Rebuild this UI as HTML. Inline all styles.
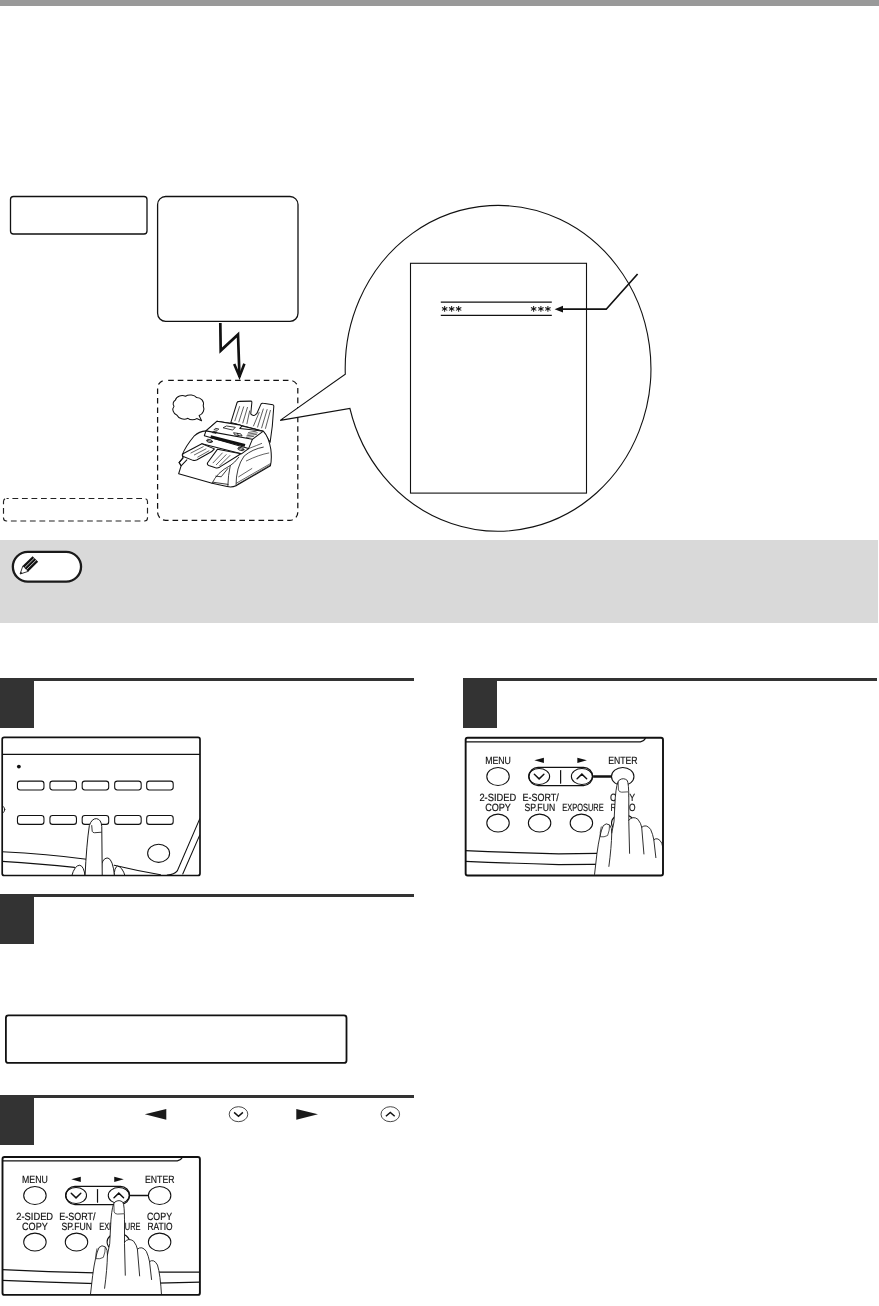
<!DOCTYPE html>
<html lang="en"><head><meta charset="utf-8"><title>Fax manual page</title>
<style>
*{margin:0;padding:0;box-sizing:border-box}
html,body{width:879px;height:1306px;background:#fff;overflow:hidden}
body{position:relative;font-family:"Liberation Sans",sans-serif;color:#111}
.abs{position:absolute}
.topbar{left:0;top:0;width:879px;height:6px;background:#999}
.note{left:0;top:540px;width:878px;height:83px;background:#d9d9d9}
.step{height:50px}
.step .num{position:absolute;left:0;top:0;width:34px;height:50px;background:#333}
.step .rule{position:absolute;left:0;top:0;right:0;height:3px;background:#333}
svg{position:absolute;left:0;top:0;overflow:visible;will-change:transform}
svg text{font-family:"Liberation Sans",sans-serif;fill:#111;text-rendering:geometricPrecision}
</style></head>
<body>
<div class="abs topbar"></div>
<div class="abs note"></div>
<div class="abs step" style="left:0px;top:678px;width:414px"><div class="rule"></div><div class="num"></div></div>
<div class="abs step" style="left:0px;top:894px;width:414px"><div class="rule"></div><div class="num"></div></div>
<div class="abs step" style="left:0px;top:1095px;width:414px"><div class="rule"></div><div class="num"></div></div>
<div class="abs step" style="left:463px;top:678px;width:414px"><div class="rule"></div><div class="num"></div></div>
<svg width="879" height="1306" viewBox="0 0 879 1306">
<rect x="10.5" y="196.5" width="136.5" height="37.5" rx="3" ry="3" fill="#fff" stroke="#111" stroke-width="1.3"/>
<rect x="157.6" y="196.5" width="140.4" height="124.8" rx="8" ry="8" fill="#fff" stroke="#111" stroke-width="1.3"/>
<path d="M220.3,323 L220.7,350.6 L238,334.4 L239.5,377" fill="none" stroke="#111" stroke-width="2.7" stroke-linejoin="miter" stroke-miterlimit="10"/>
<path d="M234.2,364 L239.5,376.6 L244.4,363.8" fill="none" stroke="#111" stroke-width="2.6" stroke-linejoin="miter" stroke-miterlimit="10"/>
<rect x="157.6" y="380.3" width="140.2" height="140" rx="8" ry="8" fill="none" stroke="#111" stroke-width="1.25" stroke-dasharray="5.6 3.956" stroke-dashoffset="-2.6"/>
<rect x="3.5" y="498.5" width="144" height="22.5" rx="3" ry="3" fill="none" stroke="#222" stroke-width="1.15" stroke-dasharray="5.8 3.72" stroke-dashoffset="3.6"/>
<g transform="translate(165,385) scale(0.13652)" fill="#fff" stroke="#111" stroke-width="7.6" stroke-linejoin="round" stroke-linecap="round">
<path d="M75,112 C85,78 125,70 150,82 C175,66 215,72 232,92 C262,92 290,118 280,152 C292,180 280,212 250,224 L268,262 L232,246 C215,258 185,258 168,244 C140,258 100,248 88,222 C58,210 50,176 66,156 C54,140 60,120 75,112 Z"/>
<path d="M482,275 L528,128 Q532,120 545,120 L630,118 Q638,120 636,130 L628,212 Q648,236 672,210 L703,140 Q708,132 720,134 L790,144 Q798,146 797,156 L786,300 L770,420 L720,340 L560,296 Z"/>
<path d="M512,262 L546,158 M541,270 L576,160 M570,278 L604,164 M600,284 L620,190 M648,300 L690,200 M678,308 L720,176 M708,314 L748,180 M736,318 L772,186" fill="none" stroke-width="5"/>
<path d="M380,266 L545,292 L565,300 L720,338 Q760,380 775,470 Q784,540 772,592 L520,738 Q490,752 455,744 L345,720 L100,650 L118,592 L103,568 L132,534 L126,512 Q150,450 215,372 Q250,340 300,336 Z"/>
<path d="M300,336 L380,266 L545,292 L565,300 L548,318 L720,338 L640,398 L300,336 Z"/>
<path d="M428,312 L450,300 L515,310 L498,328 Z M372,318 l22,4 -10,10 -22,-4 Z M356,340 l26,5 -8,9 -26,-5 Z M505,350 l50,8 l10,16 l-50,-8 Z M530,354 l8,18" fill="none" stroke-width="6"/>
<path d="M612,348 L668,338 M606,360 L676,350 M600,372 L670,362 M596,384 L650,376" fill="none" stroke-width="4.8"/>
<path d="M300,336 L288,372 L612,466 L640,398" fill="none"/>
<path d="M334,379 L586,442" fill="none" stroke-width="21" stroke-linecap="butt"/>
<ellipse cx="326" cy="410" rx="22" ry="11" transform="rotate(15 326 410)" fill="#fff" stroke-width="6"/>
<ellipse cx="556" cy="469" rx="23" ry="11" transform="rotate(15 556 469)" fill="#fff" stroke-width="6"/>
<path d="M310,406 l32,8 M540,465 l32,8" fill="none" stroke-width="6"/>
<path d="M270,430 L560,504 L612,466" fill="none"/>
<path d="M270,430 L135,502 Q122,512 134,524 L205,552 Q220,556 235,548 L320,500 Q345,490 362,468 Z"/>
<path d="M385,470 L312,570 Q306,584 320,590 L370,606 Q386,610 400,602 L530,520 L555,504 Z"/>
<path d="M190,498 L280,452 M215,512 L300,468 M240,528 L322,482 M352,570 L420,498 M376,584 L448,510 M400,592 L476,516" fill="none" stroke-width="4.8"/>
<path d="M132,534 L103,568 L118,592 L160,548" fill="none"/>
<path d="M478,590 Q462,660 460,744 M520,738 Q520,600 580,520 Q640,470 720,455 M345,720 Q380,640 478,590 Q510,570 540,530 M372,668 L412,672 L460,612 M350,712 L462,728" fill="none" stroke-width="6"/>
<path d="M596,556 Q690,510 760,498 M540,672 L636,612 M525,718 L772,576 M530,728 L774,584 M612,466 Q680,440 708,428" fill="none" stroke-width="4.8"/>
</g>
<path d="M345.30,374.1 A152.85,162.9 0 1 1 349.93,408.5 L280.2,420.4 Z" fill="#fff" stroke="#111" stroke-width="1.1" stroke-linejoin="miter"/>
<rect x="410.5" y="263.3" width="176" height="229.8" fill="#fff" stroke="#111" stroke-width="1.1"/>
<path d="M440.8,302.2 H551.8 M440.8,315.3 H551.8" fill="none" stroke="#111" stroke-width="1.2"/>
<text x="441.5" y="315.4" font-size="12" font-weight="bold" letter-spacing="0.78" style="font-family:'DejaVu Sans','Liberation Sans',sans-serif">***</text>
<text x="530.6" y="315.4" font-size="12" font-weight="bold" letter-spacing="0.78" style="font-family:'DejaVu Sans','Liberation Sans',sans-serif">***</text>
<path d="M560,309.2 H606.2 L637.6,274" fill="none" stroke="#111" stroke-width="1.7"/>
<path d="M554.6,309.2 L563,305.8 L563,312.6 Z" fill="#111"/>
<rect x="12.85" y="551.85" width="68.2" height="29.8" rx="14.9" ry="14.9" fill="#fff" stroke="#1a1a1a" stroke-width="2.3"/>
<g transform="translate(20.1,574) rotate(-44.5)"><path d="M0,0 L7.6,-3.8 L7.6,3.8 Z" fill="#fff" stroke="#111" stroke-width="0.8" stroke-linejoin="round"/><path d="M0,0 L2.2,-1.1 L2.2,1.1 Z" fill="#111"/><rect x="7.6" y="-4" width="13.8" height="8" fill="#111"/><path d="M7.6,-1.35 H21.4 M7.6,1.35 H21.4" stroke="#fff" stroke-width="0.7" fill="none"/></g>
<rect x="5.9" y="1015.4" width="340.6" height="47.5" rx="2.5" ry="2.5" fill="#fff" stroke="#111" stroke-width="1.8"/>
<path d="M144.8,1114.3 L166.3,1108.9 V1119.7 Z M318,1114.3 L296.3,1108.9 V1119.7 Z" fill="#1a1a1a"/>
<ellipse cx="238.5" cy="1114.2" rx="9.3" ry="7.5" fill="#fff" stroke="#2a2a2a" stroke-width="0.85"/>
<path d="M234.1,1112.4 L238.5,1116.2 L242.9,1112.4" fill="none" stroke="#111" stroke-width="1.5"/>
<ellipse cx="390.3" cy="1114.2" rx="9.3" ry="7.5" fill="#fff" stroke="#2a2a2a" stroke-width="0.85"/>
<path d="M385.90000000000003,1116.2 L390.3,1112.4 L394.7,1116.2" fill="none" stroke="#111" stroke-width="1.5"/>
<clipPath id="clipA"><rect x="2.2" y="737.4" width="197.8" height="138.1" rx="2"/></clipPath>
<rect x="2.2" y="737.4" width="197.8" height="138.1" rx="2" fill="#fff" stroke="none"/>
<g clip-path="url(#clipA)">
<g transform="translate(0.00,730.00) scale(0.23889)" fill="none" stroke="#111" stroke-width="5" stroke-linecap="round" stroke-linejoin="round">
<path d="M9,102 H837" stroke-width="5"/>
<circle cx="79" cy="153" r="8" fill="#111" stroke="none"/>
<rect x="73" y="214" width="111" height="37" rx="11" ry="11" stroke-width="4.5" fill="#fff"/>
<rect x="209" y="214" width="111" height="37" rx="11" ry="11" stroke-width="4.5" fill="#fff"/>
<rect x="344" y="214" width="111" height="37" rx="11" ry="11" stroke-width="4.5" fill="#fff"/>
<rect x="480" y="214" width="111" height="37" rx="11" ry="11" stroke-width="4.5" fill="#fff"/>
<rect x="614" y="214" width="111" height="37" rx="11" ry="11" stroke-width="4.5" fill="#fff"/>
<rect x="73" y="358" width="111" height="37" rx="11" ry="11" stroke-width="4.5" fill="#fff"/>
<rect x="209" y="358" width="111" height="37" rx="11" ry="11" stroke-width="4.5" fill="#fff"/>
<rect x="344" y="358" width="111" height="37" rx="11" ry="11" stroke-width="4.5" fill="#fff"/>
<rect x="480" y="358" width="111" height="37" rx="11" ry="11" stroke-width="4.5" fill="#fff"/>
<rect x="614" y="358" width="111" height="37" rx="11" ry="11" stroke-width="4.5" fill="#fff"/>
<ellipse cx="664" cy="516" rx="46" ry="38" stroke-width="4.5"/>
<ellipse cx="-4" cy="333" rx="24" ry="20" stroke-width="3.5"/>
<path d="M836,372 L742,590 Q730,606 700,607 M836,440 L765,603" stroke-width="4.5"/>
<path d="M9,510 Q200,520 362,541 M478,566 Q570,588 672,606 M9,550 Q170,560 312,575" stroke-width="4.5"/>
<path d="M300,612 Q312,566 334,566 Q352,570 356,612 Z" fill="#fff" stroke-width="4"/>
<path d="M424,612 L426,560 Q434,534 452,536 Q472,540 480,612 Z" fill="#fff" stroke-width="4"/>
<path d="M478,612 Q478,574 492,570 Q512,572 524,612 Z" fill="#fff" stroke-width="4"/>
<path d="M356,612 Q362,480 374,400 Q384,370 404,371 Q424,374 426,404 L428,612 Z" fill="#fff" stroke-width="4"/>
<path d="M384,400 L386,424 Q388,430 396,430 L424,428" stroke-width="3.5"/>
</g></g>
<rect x="2.2" y="737.4" width="197.8" height="138.1" rx="2" fill="none" stroke="#111" stroke-width="1.7"/>
<clipPath id="clipB"><rect x="2.5" y="1156.95" width="197.4" height="137.95" rx="2"/></clipPath>
<rect x="2.5" y="1156.95" width="197.4" height="137.95" rx="2" fill="#fff"/>
<g clip-path="url(#clipB)">
<g transform="translate(0.05,1150.11) scale(0.23889)" fill="none" stroke="#111" stroke-width="4.5" stroke-linecap="round">
<path d="M9,45 L742,45 Q758,42 764,28" stroke-width="4.5"/>
<path d="M338,111 V133 L298,122 Z M478,111 V133 L518,122 Z" fill="#111" stroke="none"/>
<rect x="275.5" y="152" width="266.5" height="76" rx="38" ry="38" stroke-width="5.4" fill="#fff"/>
<ellipse cx="318" cy="190" rx="44" ry="33.5" stroke-width="4.5"/>
<ellipse cx="497" cy="190" rx="44" ry="33.5" stroke-width="4.5"/>
<path d="M298,181 L318,200 L338,181 M477,199 L497,180 L517,199" stroke-width="6" stroke-linejoin="miter"/>
<path d="M408,165 V218" stroke-width="5"/>
<path d="M544,190 H622" stroke-width="7" stroke-linecap="butt"/>
<ellipse cx="146" cy="190" rx="47" ry="37.5" stroke-width="4.5" fill="#fff"/>
<ellipse cx="668" cy="190" rx="47" ry="37.5" stroke-width="4.5" fill="#fff"/>
<ellipse cx="146" cy="385" rx="47" ry="37.5" stroke-width="4.5" fill="#fff"/>
<ellipse cx="320" cy="385" rx="47" ry="37.5" stroke-width="4.5" fill="#fff"/>
<ellipse cx="495" cy="385" rx="47" ry="37.5" stroke-width="4.5" fill="#fff"/>
<ellipse cx="668" cy="385" rx="47" ry="37.5" stroke-width="4.5" fill="#fff"/>
<path d="M9,500 Q200,509 400,513.5 L640,511 L840,511 M9,545 Q200,553 400,558.5 L660,557 L840,552.5" stroke-width="5"/>
<text x="92" y="138" font-size="44" textLength="108" lengthAdjust="spacingAndGlyphs" stroke="#111" stroke-width="0.8">MENU</text>
<text x="607" y="138" font-size="44" textLength="123" lengthAdjust="spacingAndGlyphs" stroke="#111" stroke-width="0.8">ENTER</text>
<text x="68" y="293.5" font-size="44" textLength="154" lengthAdjust="spacingAndGlyphs" stroke="#111" stroke-width="0.8">2-SIDED</text>
<text x="92" y="334" font-size="44" textLength="108" lengthAdjust="spacingAndGlyphs" stroke="#111" stroke-width="0.8">COPY</text>
<text x="248" y="293.5" font-size="44" textLength="152" lengthAdjust="spacingAndGlyphs" stroke="#111" stroke-width="0.8">E-SORT/</text>
<text x="257" y="334" font-size="44" textLength="128" lengthAdjust="spacingAndGlyphs" stroke="#111" stroke-width="0.8">SP.FUN</text>
<text x="415" y="334" font-size="44" textLength="173" lengthAdjust="spacingAndGlyphs" stroke="#111" stroke-width="0.8">EXPOSURE</text>
<text x="615" y="293.5" font-size="44" textLength="105" lengthAdjust="spacingAndGlyphs" stroke="#111" stroke-width="0.8">COPY</text>
<text x="617" y="334" font-size="44" textLength="105" lengthAdjust="spacingAndGlyphs" stroke="#111" stroke-width="0.8">RATIO</text>
</g>
<g transform="translate(60.00,1180.00) scale(0.15926)" >
<g fill="#fff" stroke="#111" stroke-width="5.5" stroke-linecap="round" stroke-linejoin="round">
<path d="M190,730 L205,600 Q222,470 245,424 Q262,404 285,420 Q300,440 298,470 L312,400 L320,250 Q328,150 345,138 Q372,120 395,140 Q405,160 405,250 L405,390 Q430,360 462,384 Q482,410 486,434 Q515,410 542,448 Q556,478 562,512 Q590,492 612,534 Q630,590 638,730 Z" stroke="none"/>
<path d="M190,730 L205,600 Q222,470 245,424 Q262,404 285,420 Q300,440 298,470 Q296,560 280,680" fill="none"/>
<path d="M232,432 Q222,470 226,494 Q250,498 272,486 Q286,450 284,424" fill="none" stroke-width="4.5"/>
<path d="M298,470 L312,400 L320,250 Q328,150 345,138 Q372,120 395,140 Q405,160 405,250 L405,400 L410,598" fill="none"/>
<path d="M338,150 L340,200 Q344,214 360,214 L400,212" fill="none" stroke-width="4.5"/>
<path d="M405,390 Q430,360 462,384 Q482,410 486,434 L500,602" fill="none"/>
<path d="M486,434 Q515,410 542,448 Q556,478 562,512 L575,625" fill="none"/>
<path d="M562,512 Q590,492 612,534 Q630,590 638,730" fill="none"/>
</g>
</g>
</g>
<rect x="2.5" y="1156.95" width="197.4" height="137.95" rx="2" fill="none" stroke="#111" stroke-width="1.9"/>
<clipPath id="clipC"><rect x="465.65" y="737.8" width="197.35" height="137.7" rx="2"/></clipPath>
<rect x="465.65" y="737.8" width="197.35" height="137.7" rx="2" fill="#fff"/>
<g clip-path="url(#clipC)">
<g transform="translate(463.15,731.11) scale(0.23889)" fill="none" stroke="#111" stroke-width="4.5" stroke-linecap="round">
<path d="M9,45 L742,45 Q758,42 764,28" stroke-width="4.5"/>
<path d="M338,111 V133 L298,122 Z M478,111 V133 L518,122 Z" fill="#111" stroke="none"/>
<rect x="275.5" y="152" width="266.5" height="76" rx="38" ry="38" stroke-width="5.4" fill="#fff"/>
<ellipse cx="318" cy="190" rx="44" ry="33.5" stroke-width="4.5"/>
<ellipse cx="497" cy="190" rx="44" ry="33.5" stroke-width="4.5"/>
<path d="M298,181 L318,200 L338,181 M477,199 L497,180 L517,199" stroke-width="6" stroke-linejoin="miter"/>
<path d="M408,165 V218" stroke-width="5"/>
<path d="M544,190 H622" stroke-width="9.5" stroke-linecap="butt"/>
<ellipse cx="146" cy="190" rx="47" ry="37.5" stroke-width="4.5" fill="#fff"/>
<ellipse cx="668" cy="190" rx="47" ry="37.5" stroke-width="4.5" fill="#fff"/>
<ellipse cx="146" cy="385" rx="47" ry="37.5" stroke-width="4.5" fill="#fff"/>
<ellipse cx="320" cy="385" rx="47" ry="37.5" stroke-width="4.5" fill="#fff"/>
<ellipse cx="495" cy="385" rx="47" ry="37.5" stroke-width="4.5" fill="#fff"/>
<ellipse cx="668" cy="385" rx="47" ry="37.5" stroke-width="4.5" fill="#fff"/>
<path d="M9,500 Q200,509 400,513.5 L640,511 L840,511 M9,545 Q200,553 400,558.5 L660,557 L840,552.5" stroke-width="5"/>
<text x="92" y="138" font-size="44" textLength="108" lengthAdjust="spacingAndGlyphs" stroke="#111" stroke-width="0.8">MENU</text>
<text x="607" y="138" font-size="44" textLength="123" lengthAdjust="spacingAndGlyphs" stroke="#111" stroke-width="0.8">ENTER</text>
<text x="68" y="293.5" font-size="44" textLength="154" lengthAdjust="spacingAndGlyphs" stroke="#111" stroke-width="0.8">2-SIDED</text>
<text x="92" y="334" font-size="44" textLength="108" lengthAdjust="spacingAndGlyphs" stroke="#111" stroke-width="0.8">COPY</text>
<text x="248" y="293.5" font-size="44" textLength="152" lengthAdjust="spacingAndGlyphs" stroke="#111" stroke-width="0.8">E-SORT/</text>
<text x="257" y="334" font-size="44" textLength="128" lengthAdjust="spacingAndGlyphs" stroke="#111" stroke-width="0.8">SP.FUN</text>
<text x="415" y="334" font-size="44" textLength="173" lengthAdjust="spacingAndGlyphs" stroke="#111" stroke-width="0.8">EXPOSURE</text>
<text x="615" y="293.5" font-size="44" textLength="105" lengthAdjust="spacingAndGlyphs" stroke="#111" stroke-width="0.8">COPY</text>
<text x="617" y="334" font-size="44" textLength="105" lengthAdjust="spacingAndGlyphs" stroke="#111" stroke-width="0.8">RATIO</text>
</g>
<g transform="translate(564.30,758.10) scale(0.15926)" >
<g fill="#fff" stroke="#111" stroke-width="5.5" stroke-linecap="round" stroke-linejoin="round">
<path d="M190,730 L205,600 Q222,470 245,424 Q262,404 285,420 Q300,440 298,470 L312,400 L320,250 Q328,150 345,138 Q372,120 395,140 Q405,160 405,250 L405,390 Q430,360 462,384 Q482,410 486,434 Q515,410 542,448 Q556,478 562,512 Q590,492 612,534 Q630,590 638,730 Z" stroke="none"/>
<path d="M190,730 L205,600 Q222,470 245,424 Q262,404 285,420 Q300,440 298,470 Q296,560 280,680" fill="none"/>
<path d="M232,432 Q222,470 226,494 Q250,498 272,486 Q286,450 284,424" fill="none" stroke-width="4.5"/>
<path d="M298,470 L312,400 L320,250 Q328,150 345,138 Q372,120 395,140 Q405,160 405,250 L405,400 L410,598" fill="none"/>
<path d="M338,150 L340,200 Q344,214 360,214 L400,212" fill="none" stroke-width="4.5"/>
<path d="M405,390 Q430,360 462,384 Q482,410 486,434 L500,602" fill="none"/>
<path d="M486,434 Q515,410 542,448 Q556,478 562,512 L575,625" fill="none"/>
<path d="M562,512 Q590,492 612,534 Q630,590 638,730" fill="none"/>
</g>
</g>
</g>
<rect x="465.65" y="737.8" width="197.35" height="137.7" rx="2" fill="none" stroke="#111" stroke-width="1.9"/>
</svg>
</body></html>
